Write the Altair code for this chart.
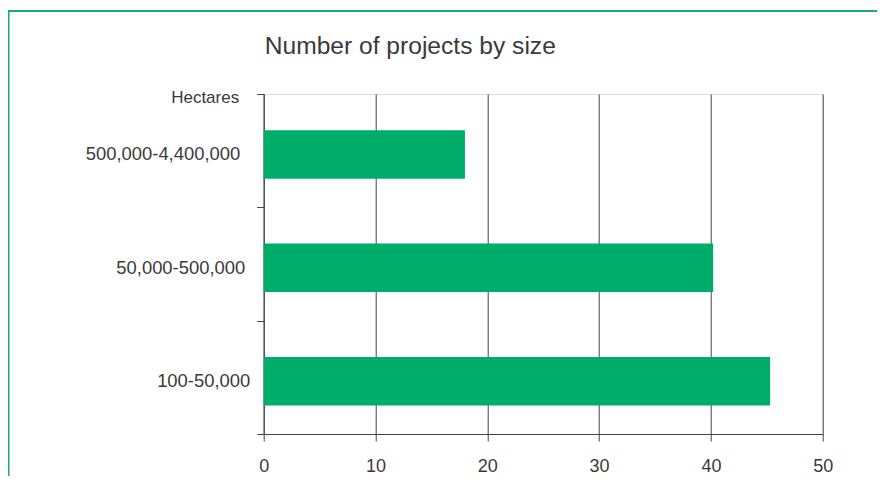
import altair as alt
import pandas as pd

# ---- data ----
categories = ["500,000-4,400,000", "50,000-500,000", "100-50,000"]
projects = [18, 40.2, 45.3]
x_ticks = [0, 10, 20, 30, 40, 50]

GREEN = "#00AC69"
FRAME = "#14B06C"
TEXT = "#3a3a3a"
LINE = "#444444"
FONT = "Liberation Sans"

df = pd.DataFrame({"size": categories, "projects": projects})

W, H = 559, 340
PAD_L, PAD_T = 255.7, 86
SVG_W, SVG_H = 869, 468

bars = alt.Chart(df).mark_bar(color=GREEN, size=48.5, yOffset=3.8).encode(
    x=alt.X(
        "projects:Q",
        scale=alt.Scale(domain=[0, 50], nice=False),
        axis=alt.Axis(
            values=x_ticks,
            grid=True,
            gridColor=LINE,
            gridWidth=1,
            tickSize=7,
            tickColor=LINE,
            domainColor=LINE,
            labelPadding=16,
            labelFlush=False,
            labelFontSize=18,
            labelFont=FONT,
            labelColor=TEXT,
            title=None,
        ),
    ),
    y=alt.Y(
        "size:N",
        sort=categories,
        scale=alt.Scale(paddingInner=0, paddingOuter=0),
        axis=alt.Axis(
            title="Hectares",
            tickBand="extent",
            tickSize=7,
            tickColor=LINE,
            domainColor=LINE,
            labelFontSize=18.4,
            labelFont=FONT,
            labelColor=TEXT,
            labelOffset=3,
            labelPadding={"expr": "datum.value == '100-50,000' ? 7 : (datum.value == '50,000-500,000' ? 12 : 17)"},
            titleAngle=0,
            titleAlign="right",
            titleBaseline="middle",
            titleX=-25,
            titleY=3,
            titleFontSize=17,
            titleFont=FONT,
            titleFontWeight="normal",
            titleColor=TEXT,
            grid=False,
        ),
    ),
)

one = pd.DataFrame({"k": [0]})
frame_v = alt.Chart(one).mark_rule(color=FRAME, strokeWidth=1.8).encode(
    x=alt.value(-PAD_L + 0.6), y=alt.value(-PAD_T + 3), y2=alt.value(SVG_H - PAD_T)
)
frame_h = alt.Chart(one).mark_rule(color=FRAME, strokeWidth=1.8).encode(
    x=alt.value(-PAD_L), x2=alt.value(SVG_W - PAD_L), y=alt.value(-PAD_T + 3)
)

chart = (
    alt.layer(bars, frame_v, frame_h)
    .properties(
        width=W,
        height=H,
        title=alt.TitleParams(
            "Number of projects by size",
            anchor="start",
            frame="group",
            fontSize=24.6,
            font=FONT,
            fontWeight="normal",
            color=TEXT,
            baseline="alphabetic",
            offset=-47,
            dx=1,
            dy=21,
        ),
        padding={"left": PAD_L, "top": PAD_T, "right": SVG_W - PAD_L - W, "bottom": SVG_H - PAD_T - H},
        autosize=alt.AutoSizeParams(type="none"),
    )
    .configure_view(stroke=None)
    .configure(background="white")
)

chart.save("out.html", embed_options={"renderer": "svg", "actions": False})
